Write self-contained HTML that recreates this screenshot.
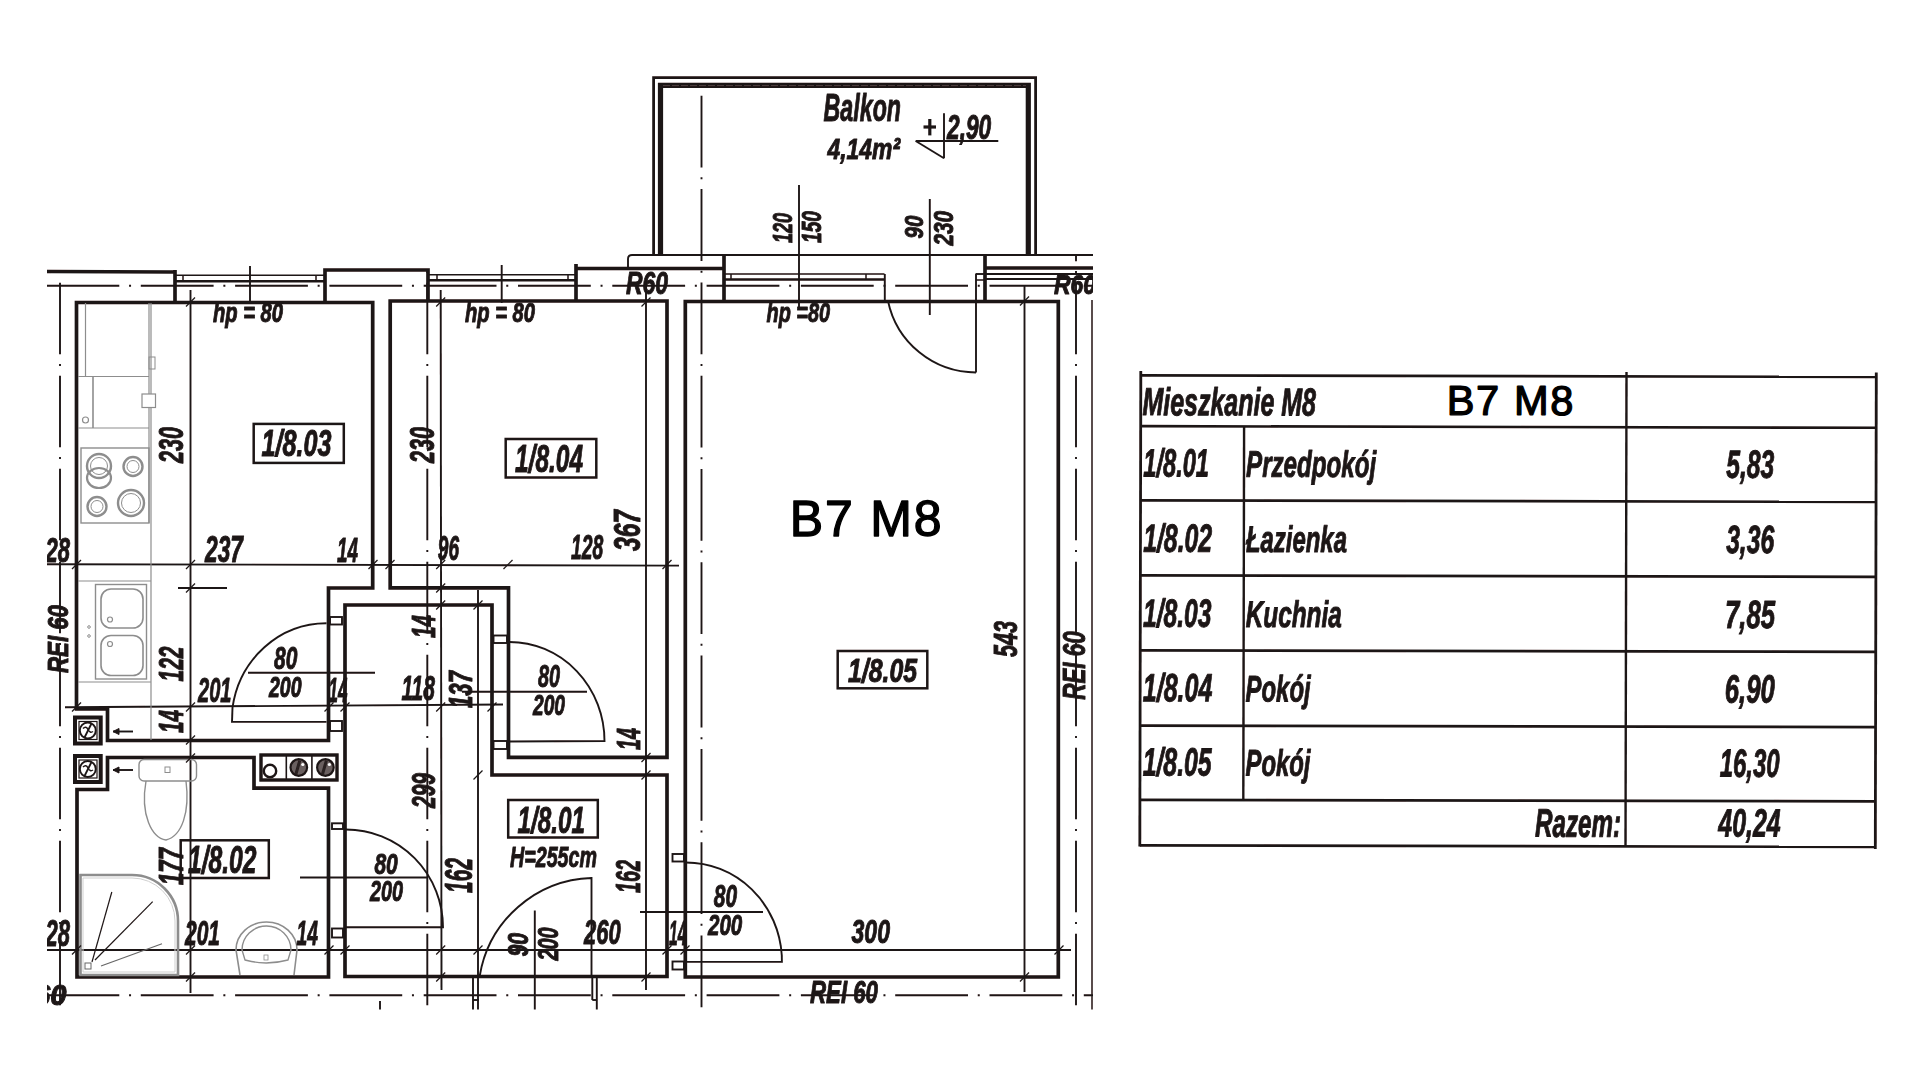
<!DOCTYPE html>
<html lang="pl"><head><meta charset="utf-8"><title>B7 M8</title>
<style>
html,body{margin:0;padding:0;background:#fff;width:1920px;height:1080px;overflow:hidden}
svg{display:block;position:absolute;left:0;top:0}
text{font-family:"Liberation Sans",sans-serif;fill:#1f1616;stroke:#1f1616;stroke-linejoin:round}
text.d{font-style:italic;font-weight:bold}
text.t{font-style:italic;font-weight:bold}
text.b{font-style:normal;font-weight:normal;fill:#000;stroke:#000;stroke-width:1.3}
</style></head><body>
<svg width="1920" height="1080" viewBox="0 0 1920 1080">
<defs><clipPath id="pc"><rect x="47" y="60" width="1046" height="949.5"/></clipPath>
<filter id="bl" x="0" y="0" width="1920" height="1080" filterUnits="userSpaceOnUse"><feGaussianBlur stdDeviation="0.45"/></filter></defs>
<rect width="1920" height="1080" fill="#fff"/>
<g clip-path="url(#pc)"><g filter="url(#bl)">
<line x1="47" y1="285.7" x2="1093" y2="285.7" stroke="#1f1616" stroke-width="1.9" stroke-dasharray="72.8 9.75 2 9.75" stroke-dashoffset="0.5"/>
<line x1="47" y1="995.3" x2="1093" y2="995.3" stroke="#1f1616" stroke-width="1.9" stroke-dasharray="72.8 9.75 2 9.75" stroke-dashoffset="0.5"/>
<line x1="60" y1="282" x2="60" y2="1010" stroke="#1f1616" stroke-width="1.9" stroke-dasharray="71.5 9.75 2 9.75" stroke-dashoffset="92.2"/>
<line x1="427.3" y1="265" x2="427.3" y2="1010" stroke="#1f1616" stroke-width="1.9" stroke-dasharray="71.5 9.75 2 9.75" stroke-dashoffset="75.2"/>
<line x1="701.5" y1="93.3" x2="701.5" y2="1010" stroke="#1f1616" stroke-width="1.9" stroke-dasharray="71.8 9.75 2 9.75" stroke-dashoffset="90.8"/>
<line x1="1076" y1="255" x2="1076" y2="1010" stroke="#1f1616" stroke-width="1.9" stroke-dasharray="71.5 9.75 2 9.75" stroke-dashoffset="65.2"/>
<line x1="1092" y1="300" x2="1092" y2="1010" stroke="#1f1616" stroke-width="1.5" stroke-linecap="butt"/>
<line x1="47" y1="564.2" x2="679" y2="565.6" stroke="#1f1616" stroke-width="1.9" stroke-linecap="butt"/>
<line x1="65" y1="707.3" x2="503" y2="704.5" stroke="#1f1616" stroke-width="1.9" stroke-linecap="butt"/>
<line x1="47" y1="950" x2="1071" y2="950" stroke="#1f1616" stroke-width="1.9" stroke-linecap="butt"/>
<line x1="190.5" y1="290" x2="190.5" y2="993" stroke="#1f1616" stroke-width="1.9" stroke-linecap="butt"/>
<line x1="440.7" y1="290" x2="441.5" y2="990" stroke="#1f1616" stroke-width="1.9" stroke-linecap="butt"/>
<line x1="478" y1="590" x2="478" y2="1010" stroke="#1f1616" stroke-width="1.9" stroke-linecap="butt"/>
<line x1="646" y1="285" x2="646" y2="990" stroke="#1f1616" stroke-width="1.9" stroke-linecap="butt"/>
<line x1="1024.5" y1="285" x2="1024.5" y2="992" stroke="#1f1616" stroke-width="1.9" stroke-linecap="butt"/>
<line x1="799" y1="185" x2="799" y2="307" stroke="#1f1616" stroke-width="1.9" stroke-linecap="butt"/>
<line x1="929.8" y1="199" x2="929.8" y2="315" stroke="#1f1616" stroke-width="1.9" stroke-linecap="butt"/>
<line x1="250" y1="266" x2="250" y2="303" stroke="#1f1616" stroke-width="1.9" stroke-linecap="butt"/>
<line x1="501.7" y1="265" x2="501.7" y2="303" stroke="#1f1616" stroke-width="1.9" stroke-linecap="butt"/>
<line x1="178" y1="588" x2="227" y2="588" stroke="#1f1616" stroke-width="1.9" stroke-linecap="butt"/>
<line x1="47" y1="271.5" x2="176" y2="272" stroke="#1f1616" stroke-width="3.7" stroke-linecap="butt"/>
<line x1="175" y1="270" x2="175" y2="301" stroke="#1f1616" stroke-width="3.7" stroke-linecap="butt"/>
<path d="M325 301 L325 270 L428 270 L428 301" fill="none" stroke="#1f1616" stroke-width="3.7" stroke-linejoin="miter"/>
<line x1="175" y1="275.3" x2="325" y2="275.3" stroke="#1f1616" stroke-width="1.5" stroke-linecap="butt"/>
<line x1="175" y1="281.2" x2="325" y2="281.2" stroke="#1f1616" stroke-width="2.4" stroke-linecap="butt"/>
<line x1="183" y1="275.3" x2="183" y2="281.2" stroke="#1f1616" stroke-width="1.5" stroke-linecap="butt"/>
<line x1="316" y1="275.3" x2="316" y2="281.2" stroke="#1f1616" stroke-width="1.5" stroke-linecap="butt"/>
<line x1="428" y1="274.8" x2="576" y2="274.8" stroke="#1f1616" stroke-width="1.5" stroke-linecap="butt"/>
<line x1="428" y1="280.2" x2="576" y2="280.2" stroke="#1f1616" stroke-width="2.4" stroke-linecap="butt"/>
<line x1="437" y1="274.8" x2="437" y2="280.2" stroke="#1f1616" stroke-width="1.5" stroke-linecap="butt"/>
<line x1="568" y1="274.8" x2="568" y2="280.2" stroke="#1f1616" stroke-width="1.5" stroke-linecap="butt"/>
<path d="M576 300 L576 264" fill="none" stroke="#1f1616" stroke-width="3.7" stroke-linejoin="miter"/>
<line x1="576" y1="268.5" x2="724" y2="268.5" stroke="#1f1616" stroke-width="3.7" stroke-linecap="butt"/>
<line x1="724" y1="255" x2="724" y2="300" stroke="#1f1616" stroke-width="3.7" stroke-linecap="butt"/>
<line x1="985" y1="255" x2="985" y2="300" stroke="#1f1616" stroke-width="3.7" stroke-linecap="butt"/>
<line x1="985" y1="268" x2="1093" y2="268" stroke="#1f1616" stroke-width="3.7" stroke-linecap="butt"/>
<path d="M628 268 L628 259 Q628 255 632 255 L1093 255" fill="none" stroke="#1f1616" stroke-width="1.9"/>
<line x1="724" y1="274" x2="884.5" y2="274" stroke="#1f1616" stroke-width="1.5" stroke-linecap="butt"/>
<line x1="724" y1="279.5" x2="884.5" y2="279.5" stroke="#1f1616" stroke-width="2.4" stroke-linecap="butt"/>
<line x1="731" y1="274" x2="731" y2="279.5" stroke="#1f1616" stroke-width="1.5" stroke-linecap="butt"/>
<line x1="866" y1="274" x2="866" y2="279.5" stroke="#1f1616" stroke-width="1.5" stroke-linecap="butt"/>
<line x1="884.8" y1="274" x2="884.8" y2="301" stroke="#1f1616" stroke-width="1.9" stroke-linecap="butt"/>
<line x1="976" y1="273.5" x2="976" y2="372.5" stroke="#1f1616" stroke-width="1.9" stroke-linecap="butt"/>
<line x1="976" y1="274" x2="986" y2="274" stroke="#1f1616" stroke-width="1.9" stroke-linecap="butt"/>
<line x1="976" y1="280" x2="986" y2="280" stroke="#1f1616" stroke-width="1.5" stroke-linecap="butt"/>
<line x1="985" y1="274" x2="1093" y2="274" stroke="#1f1616" stroke-width="1.9" stroke-linecap="butt"/>
<line x1="985" y1="279" x2="1093" y2="279" stroke="#1f1616" stroke-width="1.9" stroke-linecap="butt"/>
<path d="M653.6 254 L653.6 77.7 L1035.6 77.7 L1035.6 254" fill="none" stroke="#1f1616" stroke-width="2.8" stroke-linejoin="miter"/>
<path d="M660.5 254 L660.5 85.4 L1028.3 85.4 L1028.3 254" fill="none" stroke="#1f1616" stroke-width="5.2" stroke-linejoin="miter"/>
<line x1="663" y1="85.6" x2="1026" y2="85.6" stroke="#5a4a4a" stroke-width="0.8" stroke-dasharray="7 2" stroke-linecap="butt"/>
<path d="M888 301 A 90 90 0 0 0 976 372.5" fill="none" stroke="#1f1616" stroke-width="1.9"/>
<path d="M76.5 302.5 L372.7 302.5 L372.7 588 L328.5 588 L328.5 740.5 L107.5 740.5 L107.5 709 L76.5 709 Z" fill="none" stroke="#1f1616" stroke-width="3.7" stroke-linejoin="miter"/>
<path d="M390.2 301 L667 301 L667 757.3 L508.5 757.3 L508.5 587.8 L390.2 587.8 Z" fill="none" stroke="#1f1616" stroke-width="3.7" stroke-linejoin="miter"/>
<path d="M345 605 L492 605 L492 775 L667 775 L667 976.5 L345 976.5 Z" fill="none" stroke="#1f1616" stroke-width="3.7" stroke-linejoin="miter"/>
<path d="M107.5 757.5 L254 757.5 L254 788.2 L328.5 788.2 L328.5 977 L77 977 L77 789.5 L107.5 789.5 Z" fill="none" stroke="#1f1616" stroke-width="3.7" stroke-linejoin="miter"/>
<path d="M685.3 301.5 L1058.3 301.5 L1058.3 977 L685.3 977 Z" fill="none" stroke="#1f1616" stroke-width="3.7" stroke-linejoin="miter"/>
<path d="M326.5 623.3 A 95 98.6 0 0 0 232.5 707.6 L232 721.9 L326.5 721.9" fill="none" stroke="#1f1616" stroke-width="1.9"/>
<rect x="330" y="617" width="12" height="7.5" rx="0" fill="none" stroke="#1f1616" stroke-width="1.9"/>
<rect x="330" y="721" width="12" height="10" rx="0" fill="none" stroke="#1f1616" stroke-width="1.9"/>
<path d="M509.6 642 A 95 99 0 0 1 604.5 741 L509 741.5" fill="none" stroke="#1f1616" stroke-width="1.9"/>
<rect x="493.5" y="635.5" width="13.5" height="7.5" rx="0" fill="none" stroke="#1f1616" stroke-width="1.9"/>
<rect x="493.5" y="741" width="13.5" height="8" rx="0" fill="none" stroke="#1f1616" stroke-width="1.9"/>
<path d="M346 829.5 A 97 97.8 0 0 1 443 927.3 L346 927.3" fill="none" stroke="#1f1616" stroke-width="1.9"/>
<rect x="332" y="823.3" width="11" height="5.7000000000000455" rx="0" fill="none" stroke="#1f1616" stroke-width="1.9"/>
<rect x="332" y="928.5" width="11" height="9.0" rx="0" fill="none" stroke="#1f1616" stroke-width="1.9"/>
<path d="M686 862.5 A 96 99 0 0 1 781.8 955.5 L781.9 961.9 L686 961.9" fill="none" stroke="#1f1616" stroke-width="1.9"/>
<rect x="672.5" y="854" width="11.5" height="7.5" rx="0" fill="none" stroke="#1f1616" stroke-width="1.9"/>
<rect x="672.5" y="961.5" width="11.5" height="8.0" rx="0" fill="none" stroke="#1f1616" stroke-width="1.9"/>
<path d="M591.5 976 L591.5 878 A 117.2 117.2 0 0 0 479.7 976" fill="none" stroke="#1f1616" stroke-width="1.9"/>
<line x1="473" y1="977" x2="473" y2="1010" stroke="#1f1616" stroke-width="1.9" stroke-linecap="butt"/>
<line x1="473" y1="1000" x2="479" y2="1000" stroke="#1f1616" stroke-width="1.9" stroke-linecap="butt"/>
<line x1="592.3" y1="977" x2="592.3" y2="1000" stroke="#1f1616" stroke-width="1.9" stroke-linecap="butt"/>
<line x1="596.8" y1="977" x2="596.8" y2="1010" stroke="#1f1616" stroke-width="1.9" stroke-linecap="butt"/>
<line x1="592.3" y1="1000" x2="596.8" y2="1000" stroke="#1f1616" stroke-width="1.9" stroke-linecap="butt"/>
<line x1="534.8" y1="910.5" x2="534.8" y2="1010" stroke="#1f1616" stroke-width="1.9" stroke-linecap="butt"/>
<line x1="380" y1="1001" x2="380" y2="1010" stroke="#1f1616" stroke-width="1.9" stroke-linecap="butt"/>
<line x1="248" y1="672.7" x2="375" y2="672.7" stroke="#1f1616" stroke-width="1.9" stroke-linecap="butt"/>
<line x1="462" y1="691.7" x2="587" y2="691.7" stroke="#1f1616" stroke-width="1.9" stroke-linecap="butt"/>
<line x1="300" y1="877.5" x2="427" y2="877.5" stroke="#1f1616" stroke-width="1.9" stroke-linecap="butt"/>
<line x1="640" y1="912" x2="763" y2="912" stroke="#1f1616" stroke-width="1.9" stroke-linecap="butt"/>
<rect x="75" y="717.5" width="25.700000000000003" height="26.0" rx="0" fill="none" stroke="#1f1616" stroke-width="4"/>
<rect x="79" y="721.5" width="18" height="18.0" rx="0" fill="none" stroke="#1f1616" stroke-width="1.2"/>
<circle cx="87.8" cy="730.5" r="8" fill="none" stroke="#1f1616" stroke-width="2"/>
<line x1="84.5" y1="737.5" x2="91.5" y2="723.5" stroke="#1f1616" stroke-width="1.8" stroke-linecap="butt"/>
<path d="M83 728.5 Q86 725.5 88 729.5 T93 731.5" fill="none" stroke="#1f1616" stroke-width="1.5"/>
<line x1="113" y1="731.5" x2="133" y2="731.5" stroke="#1f1616" stroke-width="1.9" stroke-linecap="butt"/>
<path d="M113 731.5 L119 728.5 L119 734.5 Z" fill="#1f1616" stroke="#1f1616" stroke-width="1"/>
<rect x="75" y="756" width="25.700000000000003" height="26" rx="0" fill="none" stroke="#1f1616" stroke-width="4"/>
<rect x="79" y="760" width="18" height="18" rx="0" fill="none" stroke="#1f1616" stroke-width="1.2"/>
<circle cx="87.8" cy="769" r="8" fill="none" stroke="#1f1616" stroke-width="2"/>
<line x1="84.5" y1="776" x2="91.5" y2="762" stroke="#1f1616" stroke-width="1.8" stroke-linecap="butt"/>
<path d="M83 767 Q86 764 88 768 T93 770" fill="none" stroke="#1f1616" stroke-width="1.5"/>
<line x1="113" y1="770" x2="133" y2="770" stroke="#1f1616" stroke-width="1.9" stroke-linecap="butt"/>
<path d="M113 770 L119 767 L119 773 Z" fill="#1f1616" stroke="#1f1616" stroke-width="1"/>
<rect x="261" y="755" width="76" height="25" rx="0" fill="none" stroke="#1f1616" stroke-width="3.4"/>
<circle cx="270" cy="771" r="6.2" fill="none" stroke="#1f1616" stroke-width="2.4"/>
<line x1="286.3" y1="755" x2="286.3" y2="780" stroke="#1f1616" stroke-width="1.6" stroke-linecap="butt"/>
<line x1="311.9" y1="755" x2="311.9" y2="780" stroke="#1f1616" stroke-width="1.6" stroke-linecap="butt"/>
<circle cx="298.8" cy="767.5" r="8.3" fill="#6b6161" stroke="#1f1616" stroke-width="2.2"/>
<path d="M295.8 774.5 L299.8 760.5" fill="none" stroke="#2a2020" stroke-width="3"/>
<circle cx="302.8" cy="764.5" r="1.6" fill="#fff" stroke="#1f1616" stroke-width="0"/>
<circle cx="325.4" cy="767.5" r="8.3" fill="#6b6161" stroke="#1f1616" stroke-width="2.2"/>
<path d="M322.4 774.5 L326.4 760.5" fill="none" stroke="#2a2020" stroke-width="3"/>
<circle cx="329.4" cy="764.5" r="1.6" fill="#fff" stroke="#1f1616" stroke-width="0"/>
<line x1="85.5" y1="303" x2="85.5" y2="376" stroke="#8d8d8d" stroke-width="1.2" stroke-linecap="butt"/>
<line x1="149" y1="303" x2="149" y2="523" stroke="#8d8d8d" stroke-width="1.2" stroke-linecap="butt"/>
<line x1="151" y1="303" x2="151" y2="740" stroke="#8d8d8d" stroke-width="1.2" stroke-linecap="butt"/>
<line x1="78" y1="376.5" x2="149" y2="376.5" stroke="#8d8d8d" stroke-width="1.2" stroke-linecap="butt"/>
<line x1="78" y1="428" x2="149" y2="428" stroke="#8d8d8d" stroke-width="1.2" stroke-linecap="butt"/>
<line x1="93" y1="376.5" x2="93" y2="428" stroke="#8d8d8d" stroke-width="1.6" stroke-linecap="butt"/>
<circle cx="85.5" cy="420" r="3" fill="none" stroke="#8d8d8d" stroke-width="1.2"/>
<rect x="142" y="394" width="13.5" height="13.5" rx="0" fill="#fff" stroke="#8d8d8d" stroke-width="1.2"/>
<rect x="149" y="357" width="6" height="12" rx="0" fill="none" stroke="#8d8d8d" stroke-width="1"/>
<rect x="81" y="448" width="68" height="75" rx="0" fill="none" stroke="#8d8d8d" stroke-width="1.4"/>
<circle cx="99" cy="466" r="12" fill="none" stroke="#8d8d8d" stroke-width="2.4"/>
<circle cx="99" cy="466" r="8.5" fill="none" stroke="#8d8d8d" stroke-width="1"/>
<circle cx="133" cy="466.5" r="9.5" fill="none" stroke="#8d8d8d" stroke-width="2.4"/>
<circle cx="133" cy="466.5" r="6.0" fill="none" stroke="#8d8d8d" stroke-width="1"/>
<circle cx="97" cy="506.5" r="9.5" fill="none" stroke="#8d8d8d" stroke-width="2.4"/>
<circle cx="97" cy="506.5" r="6.0" fill="none" stroke="#8d8d8d" stroke-width="1"/>
<circle cx="131" cy="503" r="13" fill="none" stroke="#8d8d8d" stroke-width="2.4"/>
<circle cx="131" cy="503" r="9.5" fill="none" stroke="#8d8d8d" stroke-width="1"/>
<ellipse cx="99" cy="478" rx="12" ry="10" fill="none" stroke="#8d8d8d" stroke-width="2.2"/>
<line x1="78" y1="581" x2="151" y2="581" stroke="#8d8d8d" stroke-width="1.2" stroke-linecap="butt"/>
<line x1="78" y1="682" x2="151" y2="682" stroke="#8d8d8d" stroke-width="1.2" stroke-linecap="butt"/>
<rect x="95.5" y="584.5" width="51.0" height="94.5" rx="0" fill="none" stroke="#8d8d8d" stroke-width="1.4"/>
<rect x="101" y="589" width="42" height="39" rx="10" fill="none" stroke="#8d8d8d" stroke-width="1.6"/>
<rect x="101" y="635.5" width="42" height="40.0" rx="10" fill="none" stroke="#8d8d8d" stroke-width="1.6"/>
<circle cx="110" cy="619.5" r="2.5" fill="none" stroke="#8d8d8d" stroke-width="1.2"/>
<circle cx="110" cy="644" r="2.5" fill="none" stroke="#8d8d8d" stroke-width="1.2"/>
<circle cx="89" cy="627" r="1.3" fill="none" stroke="#8d8d8d" stroke-width="1"/>
<circle cx="89" cy="636" r="1.3" fill="none" stroke="#8d8d8d" stroke-width="1"/>
<rect x="139" y="759.5" width="57.5" height="21.5" rx="5" fill="none" stroke="#8d8d8d" stroke-width="1.4"/>
<rect x="165" y="767" width="5" height="5.5" rx="0" fill="none" stroke="#8d8d8d" stroke-width="1"/>
<path d="M146 781 C 140 815 152 838 166 840 C 182 836 190 812 186 781" fill="none" stroke="#8d8d8d" stroke-width="1.4"/>
<path d="M80.5 975 L80.5 875 L132 875 A 46 46 0 0 1 178 921 L178 975 Z" fill="none" stroke="#8d8d8d" stroke-width="2.6"/>
<path d="M83 972 L83 878 L132 878 A 43 43 0 0 1 175 921 L175 972 Z" fill="none" stroke="#cfcfcf" stroke-width="1"/>
<line x1="92" y1="962" x2="111.8" y2="892" stroke="#1f1616" stroke-width="1.2" stroke-linecap="butt"/>
<line x1="95" y1="960" x2="152.7" y2="901.7" stroke="#1f1616" stroke-width="1.2" stroke-linecap="butt"/>
<line x1="101" y1="966" x2="162" y2="943.8" stroke="#666" stroke-width="1.2" stroke-linecap="butt"/>
<rect x="85" y="963" width="6" height="6" rx="0" fill="none" stroke="#666" stroke-width="1"/>
<path d="M240 975 L236 950 A 30.5 28 0 0 1 297 950 L294 975" fill="none" stroke="#8d8d8d" stroke-width="1.6"/>
<path d="M242 950 A 24.5 24 0 0 1 291 950 L288 960 Q 266 966 245 960 Z" fill="none" stroke="#8d8d8d" stroke-width="1.4"/>
<rect x="264" y="955" width="4" height="5" rx="0" fill="none" stroke="#8d8d8d" stroke-width="0.8"/>
<line x1="72.0" y1="569.0" x2="81.0" y2="560.0" stroke="#1f1616" stroke-width="1.2" stroke-linecap="butt"/>
<line x1="186.0" y1="569.0" x2="195.0" y2="560.0" stroke="#1f1616" stroke-width="1.2" stroke-linecap="butt"/>
<line x1="368.5" y1="569.0" x2="377.5" y2="560.0" stroke="#1f1616" stroke-width="1.2" stroke-linecap="butt"/>
<line x1="385.5" y1="569.0" x2="394.5" y2="560.0" stroke="#1f1616" stroke-width="1.2" stroke-linecap="butt"/>
<line x1="436.2" y1="569.0" x2="445.2" y2="560.0" stroke="#1f1616" stroke-width="1.2" stroke-linecap="butt"/>
<line x1="503.5" y1="569.0" x2="512.5" y2="560.0" stroke="#1f1616" stroke-width="1.2" stroke-linecap="butt"/>
<line x1="662.5" y1="569.0" x2="671.5" y2="560.0" stroke="#1f1616" stroke-width="1.2" stroke-linecap="butt"/>
<line x1="72.0" y1="711.5" x2="81.0" y2="702.5" stroke="#1f1616" stroke-width="1.2" stroke-linecap="butt"/>
<line x1="186.0" y1="711.5" x2="195.0" y2="702.5" stroke="#1f1616" stroke-width="1.2" stroke-linecap="butt"/>
<line x1="324.5" y1="711.5" x2="333.5" y2="702.5" stroke="#1f1616" stroke-width="1.2" stroke-linecap="butt"/>
<line x1="340.5" y1="711.5" x2="349.5" y2="702.5" stroke="#1f1616" stroke-width="1.2" stroke-linecap="butt"/>
<line x1="436.2" y1="711.5" x2="445.2" y2="702.5" stroke="#1f1616" stroke-width="1.2" stroke-linecap="butt"/>
<line x1="487.5" y1="711.5" x2="496.5" y2="702.5" stroke="#1f1616" stroke-width="1.2" stroke-linecap="butt"/>
<line x1="72.0" y1="954.5" x2="81.0" y2="945.5" stroke="#1f1616" stroke-width="1.2" stroke-linecap="butt"/>
<line x1="186.0" y1="954.5" x2="195.0" y2="945.5" stroke="#1f1616" stroke-width="1.2" stroke-linecap="butt"/>
<line x1="324.5" y1="954.5" x2="333.5" y2="945.5" stroke="#1f1616" stroke-width="1.2" stroke-linecap="butt"/>
<line x1="340.5" y1="954.5" x2="349.5" y2="945.5" stroke="#1f1616" stroke-width="1.2" stroke-linecap="butt"/>
<line x1="436.2" y1="954.5" x2="445.2" y2="945.5" stroke="#1f1616" stroke-width="1.2" stroke-linecap="butt"/>
<line x1="473.5" y1="954.5" x2="482.5" y2="945.5" stroke="#1f1616" stroke-width="1.2" stroke-linecap="butt"/>
<line x1="662.5" y1="954.5" x2="671.5" y2="945.5" stroke="#1f1616" stroke-width="1.2" stroke-linecap="butt"/>
<line x1="680.5" y1="954.5" x2="689.5" y2="945.5" stroke="#1f1616" stroke-width="1.2" stroke-linecap="butt"/>
<line x1="1054.5" y1="954.5" x2="1063.5" y2="945.5" stroke="#1f1616" stroke-width="1.2" stroke-linecap="butt"/>
<line x1="186.0" y1="306.5" x2="195.0" y2="297.5" stroke="#1f1616" stroke-width="1.2" stroke-linecap="butt"/>
<line x1="186.0" y1="592.5" x2="195.0" y2="583.5" stroke="#1f1616" stroke-width="1.2" stroke-linecap="butt"/>
<line x1="186.0" y1="744.5" x2="195.0" y2="735.5" stroke="#1f1616" stroke-width="1.2" stroke-linecap="butt"/>
<line x1="186.0" y1="762.5" x2="195.0" y2="753.5" stroke="#1f1616" stroke-width="1.2" stroke-linecap="butt"/>
<line x1="186.0" y1="981.5" x2="195.0" y2="972.5" stroke="#1f1616" stroke-width="1.2" stroke-linecap="butt"/>
<line x1="436.2" y1="306.5" x2="445.2" y2="297.5" stroke="#1f1616" stroke-width="1.2" stroke-linecap="butt"/>
<line x1="436.2" y1="592.5" x2="445.2" y2="583.5" stroke="#1f1616" stroke-width="1.2" stroke-linecap="butt"/>
<line x1="436.2" y1="609.5" x2="445.2" y2="600.5" stroke="#1f1616" stroke-width="1.2" stroke-linecap="butt"/>
<line x1="436.2" y1="981.5" x2="445.2" y2="972.5" stroke="#1f1616" stroke-width="1.2" stroke-linecap="butt"/>
<line x1="473.5" y1="609.5" x2="482.5" y2="600.5" stroke="#1f1616" stroke-width="1.2" stroke-linecap="butt"/>
<line x1="473.5" y1="779.5" x2="482.5" y2="770.5" stroke="#1f1616" stroke-width="1.2" stroke-linecap="butt"/>
<line x1="641.5" y1="306.5" x2="650.5" y2="297.5" stroke="#1f1616" stroke-width="1.2" stroke-linecap="butt"/>
<line x1="641.5" y1="762.0" x2="650.5" y2="753.0" stroke="#1f1616" stroke-width="1.2" stroke-linecap="butt"/>
<line x1="641.5" y1="779.5" x2="650.5" y2="770.5" stroke="#1f1616" stroke-width="1.2" stroke-linecap="butt"/>
<line x1="641.5" y1="981.5" x2="650.5" y2="972.5" stroke="#1f1616" stroke-width="1.2" stroke-linecap="butt"/>
<line x1="1020.0" y1="305.5" x2="1029.0" y2="296.5" stroke="#1f1616" stroke-width="1.2" stroke-linecap="butt"/>
<line x1="1020.0" y1="981.5" x2="1029.0" y2="972.5" stroke="#1f1616" stroke-width="1.2" stroke-linecap="butt"/>
<rect x="253.7" y="423.9" width="90.10000000000002" height="39.0" rx="0" fill="none" stroke="#1f1616" stroke-width="2.5"/>
<text class="d" x="261.5" y="456" font-size="37.1" textLength="70.0" lengthAdjust="spacingAndGlyphs" stroke-width="1.0">1/8.03</text>
<rect x="505.7" y="439" width="90.59999999999997" height="38.5" rx="0" fill="none" stroke="#1f1616" stroke-width="2.5"/>
<text class="d" x="515" y="471.5" font-size="37.9" textLength="68.0" lengthAdjust="spacingAndGlyphs" stroke-width="1.0">1/8.04</text>
<rect x="508.2" y="800" width="89.59999999999997" height="37.5" rx="0" fill="none" stroke="#1f1616" stroke-width="2.5"/>
<text class="d" x="517.5" y="832.5" font-size="37.1" textLength="67.5" lengthAdjust="spacingAndGlyphs" stroke-width="1.0">1/8.01</text>
<rect x="180.7" y="840.3" width="88.10000000000002" height="37.700000000000045" rx="0" fill="none" stroke="#1f1616" stroke-width="2.5"/>
<text class="d" x="188" y="873" font-size="37.9" textLength="68.5" lengthAdjust="spacingAndGlyphs" stroke-width="1.0">1/8.02</text>
<rect x="837.7" y="651" width="89.59999999999991" height="37.299999999999955" rx="0" fill="none" stroke="#1f1616" stroke-width="2.5"/>
<text class="d" x="848" y="682" font-size="32.9" textLength="69.0" lengthAdjust="spacingAndGlyphs" stroke-width="1.0">1/8.05</text>
<text class="d" x="510" y="866.7" font-size="29.6" textLength="87.0" lengthAdjust="spacingAndGlyphs" stroke-width="1.0">H=255cm</text>
<text class="d" x="213" y="322" font-size="27.1" textLength="70.0" lengthAdjust="spacingAndGlyphs" stroke-width="1.0">hp = 80</text>
<text class="d" x="465" y="322" font-size="27.1" textLength="70.0" lengthAdjust="spacingAndGlyphs" stroke-width="1.0">hp = 80</text>
<text class="d" x="766.5" y="322" font-size="27.1" textLength="63.5" lengthAdjust="spacingAndGlyphs" stroke-width="1.0">hp =80</text>
<text class="d" transform="translate(183 463) rotate(-90)" x="0" y="0" font-size="35.7" textLength="36.0" lengthAdjust="spacingAndGlyphs" stroke-width="1.0">230</text>
<text class="d" transform="translate(434 463) rotate(-90)" x="0" y="0" font-size="34.3" textLength="36.0" lengthAdjust="spacingAndGlyphs" stroke-width="1.0">230</text>
<text class="d" x="45.5" y="562" font-size="35.7" textLength="24.5" lengthAdjust="spacingAndGlyphs" stroke-width="1.0">28</text>
<text class="d" x="205" y="562" font-size="37.1" textLength="38.0" lengthAdjust="spacingAndGlyphs" stroke-width="1.0">237</text>
<text class="d" x="337" y="562" font-size="35.7" textLength="21.0" lengthAdjust="spacingAndGlyphs" stroke-width="1.0">14</text>
<text class="d" x="437.8" y="559.5" font-size="35.0" textLength="21.2" lengthAdjust="spacingAndGlyphs" stroke-width="1.0">96</text>
<text class="d" x="571" y="559.3" font-size="34.7" textLength="32.3" lengthAdjust="spacingAndGlyphs" stroke-width="1.0">128</text>
<text class="d" transform="translate(640 551) rotate(-90)" x="0" y="0" font-size="37.1" textLength="41.0" lengthAdjust="spacingAndGlyphs" stroke-width="1.0">367</text>
<text class="d" x="626" y="294" font-size="31.4" textLength="42.0" lengthAdjust="spacingAndGlyphs" stroke-width="1.0">R60</text>
<text class="d" x="1054" y="294" font-size="27.1" textLength="42.0" lengthAdjust="spacingAndGlyphs" stroke-width="1.0">R60</text>
<text class="d" transform="translate(68 673) rotate(-90)" x="0" y="0" font-size="28.6" textLength="68.0" lengthAdjust="spacingAndGlyphs" stroke-width="1.0">REI 60</text>
<text class="d" transform="translate(1084.5 699.8) rotate(-90)" x="0" y="0" font-size="31.0" textLength="68.5" lengthAdjust="spacingAndGlyphs" stroke-width="1.0">REI 60</text>
<text class="d" transform="translate(183 681.5) rotate(-90)" x="0" y="0" font-size="34.3" textLength="35.0" lengthAdjust="spacingAndGlyphs" stroke-width="1.0">122</text>
<text class="d" transform="translate(183 733) rotate(-90)" x="0" y="0" font-size="34.3" textLength="23.0" lengthAdjust="spacingAndGlyphs" stroke-width="1.0">14</text>
<text class="d" x="198" y="701.5" font-size="35.7" textLength="33.5" lengthAdjust="spacingAndGlyphs" stroke-width="1.0">201</text>
<text class="d" x="274" y="669.4" font-size="31.6" textLength="23.3" lengthAdjust="spacingAndGlyphs" stroke-width="1.0">80</text>
<text class="d" x="269" y="697" font-size="28.6" textLength="32.5" lengthAdjust="spacingAndGlyphs" stroke-width="1.0">200</text>
<text class="d" x="328.5" y="701.5" font-size="35.0" textLength="19.0" lengthAdjust="spacingAndGlyphs" stroke-width="1.0">14</text>
<text class="d" x="401.5" y="700" font-size="35.7" textLength="33.5" lengthAdjust="spacingAndGlyphs" stroke-width="1.0">118</text>
<text class="d" transform="translate(471.5 708) rotate(-90)" x="0" y="0" font-size="33.6" textLength="37.0" lengthAdjust="spacingAndGlyphs" stroke-width="1.0">137</text>
<text class="d" transform="translate(435 638) rotate(-90)" x="0" y="0" font-size="33.6" textLength="23.0" lengthAdjust="spacingAndGlyphs" stroke-width="1.0">14</text>
<text class="d" x="538" y="686.5" font-size="30.7" textLength="22.0" lengthAdjust="spacingAndGlyphs" stroke-width="1.0">80</text>
<text class="d" x="533" y="715" font-size="28.6" textLength="32.0" lengthAdjust="spacingAndGlyphs" stroke-width="1.0">200</text>
<text class="d" transform="translate(640 750) rotate(-90)" x="0" y="0" font-size="33.6" textLength="22.0" lengthAdjust="spacingAndGlyphs" stroke-width="1.0">14</text>
<text class="d" transform="translate(435 808) rotate(-90)" x="0" y="0" font-size="33.6" textLength="35.0" lengthAdjust="spacingAndGlyphs" stroke-width="1.0">299</text>
<text class="d" transform="translate(183 885) rotate(-90)" x="0" y="0" font-size="34.3" textLength="37.0" lengthAdjust="spacingAndGlyphs" stroke-width="1.0">177</text>
<text class="d" transform="translate(471.5 893) rotate(-90)" x="0" y="0" font-size="37.9" textLength="35.0" lengthAdjust="spacingAndGlyphs" stroke-width="1.0">162</text>
<text class="d" transform="translate(640 893) rotate(-90)" x="0" y="0" font-size="35.7" textLength="33.0" lengthAdjust="spacingAndGlyphs" stroke-width="1.0">162</text>
<text class="d" x="45.5" y="946" font-size="37.1" textLength="24.5" lengthAdjust="spacingAndGlyphs" stroke-width="1.0">28</text>
<text class="d" x="185" y="945" font-size="35.7" textLength="35.0" lengthAdjust="spacingAndGlyphs" stroke-width="1.0">201</text>
<text class="d" x="296.5" y="945" font-size="35.7" textLength="21.5" lengthAdjust="spacingAndGlyphs" stroke-width="1.0">14</text>
<text class="d" x="374.4" y="873.5" font-size="29.3" textLength="23.4" lengthAdjust="spacingAndGlyphs" stroke-width="1.0">80</text>
<text class="d" x="370" y="901.4" font-size="29.7" textLength="33.0" lengthAdjust="spacingAndGlyphs" stroke-width="1.0">200</text>
<text class="d" transform="translate(528 956.5) rotate(-90)" x="0" y="0" font-size="30.0" textLength="23.5" lengthAdjust="spacingAndGlyphs" stroke-width="1.0">90</text>
<text class="d" transform="translate(557.5 960.5) rotate(-90)" x="0" y="0" font-size="29.3" textLength="33.0" lengthAdjust="spacingAndGlyphs" stroke-width="1.0">200</text>
<text class="d" x="584" y="944" font-size="35.0" textLength="36.7" lengthAdjust="spacingAndGlyphs" stroke-width="1.0">260</text>
<text class="d" x="669" y="945" font-size="35.7" textLength="17.5" lengthAdjust="spacingAndGlyphs" stroke-width="1.0">14</text>
<text class="d" x="713.8" y="907.4" font-size="31.3" textLength="23.2" lengthAdjust="spacingAndGlyphs" stroke-width="1.0">80</text>
<text class="d" x="708" y="935.3" font-size="29.7" textLength="34.3" lengthAdjust="spacingAndGlyphs" stroke-width="1.0">200</text>
<text class="d" x="851.5" y="943" font-size="32.9" textLength="38.5" lengthAdjust="spacingAndGlyphs" stroke-width="1.0">300</text>
<text class="d" x="810" y="1003" font-size="30.7" textLength="68.0" lengthAdjust="spacingAndGlyphs" stroke-width="1.0">REI 60</text>
<text class="d" x="34" y="1005" font-size="28.6" textLength="32.5" lengthAdjust="spacingAndGlyphs" stroke-width="1.0">60</text>
<text class="d" transform="translate(1017 657) rotate(-90)" x="0" y="0" font-size="33.9" textLength="36.0" lengthAdjust="spacingAndGlyphs" stroke-width="1.0">543</text>
<text class="d" transform="translate(792 243) rotate(-90)" x="0" y="0" font-size="27.1" textLength="30.0" lengthAdjust="spacingAndGlyphs" stroke-width="1.0">120</text>
<text class="d" transform="translate(821.2 243) rotate(-90)" x="0" y="0" font-size="26.9" textLength="32.0" lengthAdjust="spacingAndGlyphs" stroke-width="1.0">150</text>
<text class="d" transform="translate(922.7 238.4) rotate(-90)" x="0" y="0" font-size="25.9" textLength="22.8" lengthAdjust="spacingAndGlyphs" stroke-width="1.0">90</text>
<text class="d" transform="translate(952.6 245.5) rotate(-90)" x="0" y="0" font-size="26.9" textLength="34.5" lengthAdjust="spacingAndGlyphs" stroke-width="1.0">230</text>
<text class="d" x="823.6" y="121.2" font-size="38.9" textLength="77.4" lengthAdjust="spacingAndGlyphs" stroke-width="1.0">Balkon</text>
<text class="d" x="827.5" y="159" font-size="30.4" textLength="72.5" lengthAdjust="spacingAndGlyphs" stroke-width="1.0">4,14m²</text>
<text class="d" x="947" y="139.3" font-size="34.3" textLength="44.2" lengthAdjust="spacingAndGlyphs" stroke-width="1.0">2,90</text>
<line x1="923.5" y1="127" x2="936" y2="127" stroke="#1f1616" stroke-width="3.2" stroke-linecap="butt"/>
<line x1="929.8" y1="119" x2="929.8" y2="135.4" stroke="#1f1616" stroke-width="3.2" stroke-linecap="butt"/>
<line x1="944" y1="113.3" x2="944" y2="158.2" stroke="#1f1616" stroke-width="1.9" stroke-linecap="butt"/>
<line x1="915.7" y1="141" x2="998.3" y2="141" stroke="#1f1616" stroke-width="1.9" stroke-linecap="butt"/>
<line x1="915.7" y1="141" x2="944" y2="158.2" stroke="#1f1616" stroke-width="1.9" stroke-linecap="butt"/>
</g></g>
<g filter="url(#bl)">
<g transform="rotate(0.12 1141 375)">
<line x1="1140.8" y1="375.4" x2="1876.3" y2="375.4" stroke="#1f1616" stroke-width="2.7" stroke-linecap="butt"/>
<line x1="1140.8" y1="426.2" x2="1876.3" y2="426.2" stroke="#1f1616" stroke-width="2.7" stroke-linecap="butt"/>
<line x1="1140.8" y1="500.4" x2="1876.3" y2="500.4" stroke="#1f1616" stroke-width="2.7" stroke-linecap="butt"/>
<line x1="1140.8" y1="575.3" x2="1876.3" y2="575.3" stroke="#1f1616" stroke-width="2.7" stroke-linecap="butt"/>
<line x1="1140.8" y1="650.3" x2="1876.3" y2="650.3" stroke="#1f1616" stroke-width="2.7" stroke-linecap="butt"/>
<line x1="1140.8" y1="725.6" x2="1876.3" y2="725.6" stroke="#1f1616" stroke-width="2.7" stroke-linecap="butt"/>
<line x1="1140.8" y1="799.8" x2="1876.3" y2="799.8" stroke="#1f1616" stroke-width="2.7" stroke-linecap="butt"/>
<line x1="1140.8" y1="845.4" x2="1876.3" y2="845.4" stroke="#1f1616" stroke-width="2.7" stroke-linecap="butt"/>
<line x1="1140.8" y1="371" x2="1140.8" y2="846.5" stroke="#1f1616" stroke-width="2.8" stroke-linecap="butt"/>
<line x1="1876.3" y1="371" x2="1876.3" y2="847.5" stroke="#1f1616" stroke-width="2.8" stroke-linecap="butt"/>
<line x1="1244.2" y1="426.2" x2="1244.2" y2="799.8" stroke="#1f1616" stroke-width="2.4" stroke-linecap="butt"/>
<line x1="1626.5" y1="371" x2="1626.5" y2="845.4" stroke="#1f1616" stroke-width="2.4" stroke-linecap="butt"/>
<text class="t" x="1142.5" y="415.1" font-size="39.0" textLength="173.5" lengthAdjust="spacingAndGlyphs" stroke-width="1.0">Mieszkanie M8</text>
<text class="t" x="1143.5" y="476.5" font-size="39.3" textLength="65.7" lengthAdjust="spacingAndGlyphs" stroke-width="1.0">1/8.01</text>
<text class="t" x="1246.3" y="476.5" font-size="37.1" textLength="130.0" lengthAdjust="spacingAndGlyphs" stroke-width="1.0">Przedpokój</text>
<text class="t" x="1726.5" y="476.5" font-size="39.3" textLength="48.0" lengthAdjust="spacingAndGlyphs" stroke-width="1.0">5,83</text>
<text class="t" x="1143.5" y="551.7" font-size="39.3" textLength="69.0" lengthAdjust="spacingAndGlyphs" stroke-width="1.0">1/8.02</text>
<text class="t" x="1246.3" y="551.7" font-size="37.1" textLength="101.0" lengthAdjust="spacingAndGlyphs" stroke-width="1.0">Łazienka</text>
<text class="t" x="1726.5" y="551.7" font-size="39.3" textLength="48.0" lengthAdjust="spacingAndGlyphs" stroke-width="1.0">3,36</text>
<text class="t" x="1143.5" y="626.7" font-size="39.3" textLength="68.5" lengthAdjust="spacingAndGlyphs" stroke-width="1.0">1/8.03</text>
<text class="t" x="1246.3" y="626.7" font-size="37.1" textLength="96.0" lengthAdjust="spacingAndGlyphs" stroke-width="1.0">Kuchnia</text>
<text class="t" x="1725.5" y="626.7" font-size="39.3" textLength="50.0" lengthAdjust="spacingAndGlyphs" stroke-width="1.0">7,85</text>
<text class="t" x="1143.5" y="701.2" font-size="39.3" textLength="69.5" lengthAdjust="spacingAndGlyphs" stroke-width="1.0">1/8.04</text>
<text class="t" x="1246.3" y="701.2" font-size="37.1" textLength="65.0" lengthAdjust="spacingAndGlyphs" stroke-width="1.0">Pokój</text>
<text class="t" x="1725.5" y="701.2" font-size="39.3" textLength="50.0" lengthAdjust="spacingAndGlyphs" stroke-width="1.0">6,90</text>
<text class="t" x="1143.5" y="775.4" font-size="39.3" textLength="69.0" lengthAdjust="spacingAndGlyphs" stroke-width="1.0">1/8.05</text>
<text class="t" x="1246.3" y="775.4" font-size="37.1" textLength="65.0" lengthAdjust="spacingAndGlyphs" stroke-width="1.0">Pokój</text>
<text class="t" x="1720.5" y="775.4" font-size="39.3" textLength="60.0" lengthAdjust="spacingAndGlyphs" stroke-width="1.0">16,30</text>
<text class="t" x="1536" y="835.8" font-size="39.7" textLength="86.0" lengthAdjust="spacingAndGlyphs" stroke-width="1.0">Razem:</text>
<text class="t" x="1719.3" y="835.3" font-size="39.3" textLength="62.2" lengthAdjust="spacingAndGlyphs" stroke-width="1.0">40,24</text>
</g>
</g>
<text class="b" x="789.8" y="535.9" font-size="50" letter-spacing="1.8">B7 M8</text>
<text class="b" transform="rotate(0.12 1141 375)" x="1446.8" y="414.1" font-size="41.5" letter-spacing="1.66">B7 M8</text>
</svg>
</body></html>
